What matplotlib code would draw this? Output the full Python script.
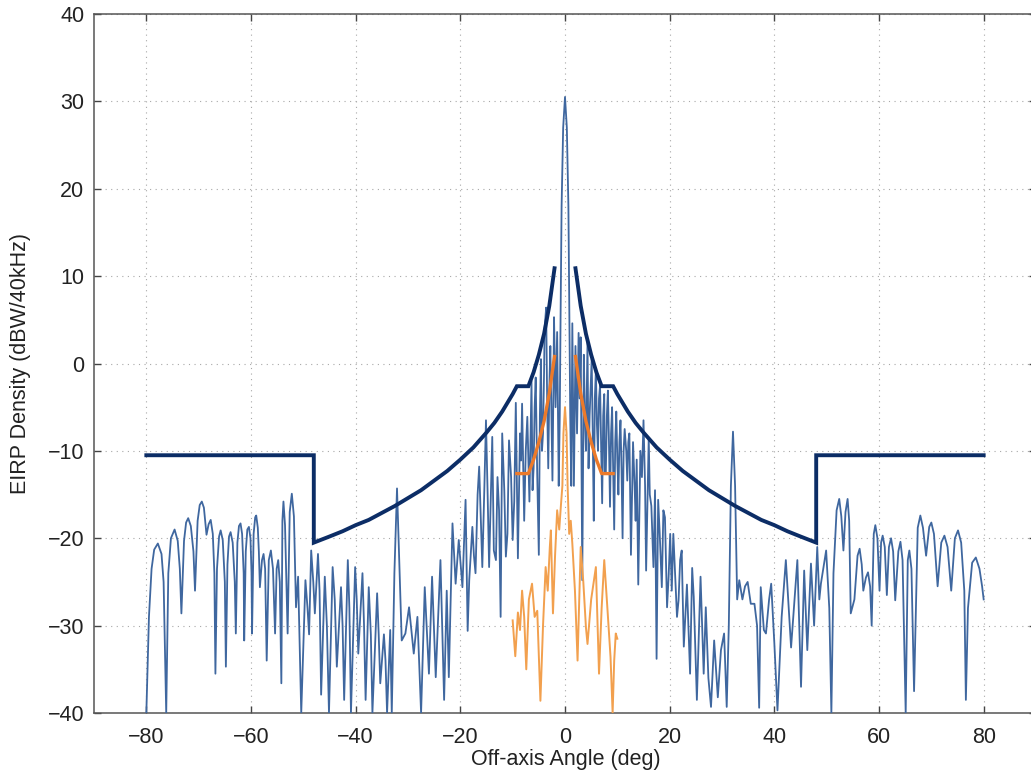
import numpy as np
import matplotlib
matplotlib.use("Agg")
import matplotlib.pyplot as plt

# ---------------- data ----------------
x_ticks = [-80, -60, -40, -20, 0, 20, 40, 60, 80]
y_ticks = [-40, -30, -20, -10, 0, 10, 20, 30, 40]

# measured EIRP density pattern (blue), (angle deg, dBW/40kHz)
blue_trace = [
    (-80.0, -40.0), (-79.5, -29.0), (-79.0, -23.5), (-78.5, -21.3), (-77.8, -20.6), (-77.1, -21.8), (-76.7, -25.0), (-76.2, -40.0),
    (-75.8, -24.0), (-75.3, -20.0), (-74.6, -19.0), (-74.0, -20.3), (-73.6, -23.5), (-73.3, -28.6),
    (-72.8, -20.3), (-72.4, -18.2), (-72.0, -17.7), (-71.5, -18.6), (-71.0, -21.5), (-70.7, -26.0),
    (-70.2, -18.0), (-69.8, -16.2), (-69.4, -15.8), (-69.0, -16.5), (-68.5, -19.6), (-68.1, -18.4), (-67.7, -17.9),
    (-67.3, -19.5), (-67.0, -24.0), (-66.8, -35.5),
    (-66.5, -23.5), (-66.1, -19.8), (-65.8, -19.1), (-65.4, -20.2), (-65.0, -25.0), (-64.8, -34.7),
    (-64.5, -23.0), (-64.2, -19.8), (-63.9, -19.3), (-63.5, -20.5), (-63.1, -25.0), (-62.9, -30.9),
    (-62.6, -20.5), (-62.3, -18.6), (-62.0, -18.3), (-61.7, -19.5), (-61.4, -24.0), (-61.3, -31.7),
    (-61.0, -21.5), (-60.7, -19.0), (-60.4, -18.7), (-60.1, -20.0), (-59.9, -24.0), (-59.8, -30.9),
    (-59.5, -19.5), (-59.2, -17.6), (-59.0, -17.4), (-58.7, -18.8), (-58.5, -21.5), (-58.3, -25.6),
    (-57.9, -22.5), (-57.6, -21.8), (-57.3, -23.5), (-57.0, -34.0),
    (-56.6, -22.5), (-56.2, -21.4), (-55.8, -23.5), (-55.4, -30.9),
    (-55.1, -23.5), (-54.8, -22.5), (-54.5, -25.0), (-54.2, -36.6),
    (-54.0, -18.0), (-53.8, -15.8), (-53.5, -18.5), (-53.0, -30.9),
    (-52.6, -17.0), (-52.2, -14.9), (-51.8, -17.5), (-51.4, -27.9),
    (-51.0, -24.4), (-50.4, -40.0),
    (-49.6, -24.8), (-49.2, -28.0), (-48.9, -31.0), (-48.5, -21.4), (-48.1, -25.0), (-47.8, -28.6), (-47.2, -21.8),
    (-46.9, -26.0), (-46.6, -37.9), (-45.9, -24.4), (-45.5, -30.0), (-45.1, -40.0), (-44.4, -23.3), (-44.0, -27.0),
    (-43.6, -34.7), (-42.8, -25.6), (-42.5, -30.0), (-42.2, -38.5), (-41.5, -22.5), (-41.2, -28.0), (-40.9, -40.0),
    (-40.1, -23.3), (-39.8, -27.0), (-39.5, -33.2), (-38.7, -24.0), (-38.4, -30.0), (-38.1, -38.5), (-37.5, -25.6),
    (-37.1, -31.0), (-36.8, -40.0), (-35.9, -26.3), (-35.6, -31.0), (-35.3, -36.6), (-34.6, -31.0), (-34.3, -34.0),
    (-34.0, -40.0), (-33.4, -30.5), (-33.1, -40.0),
    (-32.6, -24.0), (-32.1, -14.3), (-31.6, -24.0), (-31.2, -31.7),
    (-30.5, -30.9), (-29.8, -27.9), (-28.9, -33.2), (-28.2, -29.0), (-27.5, -40.0), (-26.8, -25.6),
    (-26.0, -35.5), (-25.4, -24.4), (-24.7, -35.9), (-23.8, -22.5), (-23.1, -38.5), (-22.6, -26.0),
    (-22.2, -35.9), (-21.5, -18.3), (-20.9, -25.2), (-20.3, -20.2), (-19.6, -25.6), (-19.0, -15.6),
    (-18.6, -30.6), (-18.3, -24.8), (-17.7, -18.7), (-17.4, -22.0), (-17.1, -24.0), (-16.7, -15.0),
    (-16.4, -11.8), (-15.8, -23.3), (-15.4, -14.0), (-15.1, -6.5), (-14.8, -14.5), (-14.5, -23.3),
    (-13.9, -8.4), (-13.6, -21.4), (-13.2, -22.5), (-12.9, -13.0), (-12.6, -16.8), (-12.3, -29.0),
    (-12.0, -8.0), (-11.6, -14.5), (-11.3, -22.1), (-11.0, -19.5), (-10.7, -8.8), (-10.3, -13.0), (-10.0, -20.2),
    (-9.7, -15.8), (-9.4, -4.5), (-9.0, -22.3), (-8.6, -8.0), (-8.4, -11.1), (-8.2, -4.6), (-7.8, -18.0),
    (-7.5, -10.0), (-7.2, -6.1), (-6.8, -15.8), (-6.6, -9.0), (-6.4, -2.0), (-6.2, -14.5), (-6.0, -12.0),
    (-5.8, -5.0), (-5.6, -1.6), (-5.3, -13.0), (-5.0, -21.9), (-4.8, -6.0), (-4.6, 0.5), (-4.4, -10.0),
    (-4.2, -8.0), (-4.0, -1.0), (-3.9, 4.0), (-3.6, 6.4), (-3.4, -5.0), (-3.2, -12.0), (-3.0, -3.0),
    (-2.8, 2.0), (-2.6, -6.0), (-2.4, -13.4), (-2.2, -2.0), (-2.1, 5.3), (-1.8, -5.0), (-1.5, 3.6),
    (-1.2, -14.0),
    (-1.0, -6.0), (-0.85, 5.0), (-0.65, 18.0), (-0.35, 27.0), (0.0, 30.5), (0.35, 27.0), (0.65, 18.0),
    (0.85, 5.0), (1.0, -6.0),
    (1.2, -14.0), (1.4, 4.6), (1.7, -14.0), (2.0, 2.0), (2.3, -8.0), (2.6, 3.5), (2.8, -4.0), (3.0, 3.0),
    (3.3, -24.8), (3.6, 1.0), (3.8, -6.0), (4.0, -10.0), (4.3, 2.5), (4.5, -12.0), (4.7, -6.0), (5.1, 0.5),
    (5.3, -8.0), (5.5, -18.0), (5.7, -4.0), (5.9, -0.8), (6.1, -7.0), (6.3, -10.0), (6.5, -4.0), (6.7, -2.5),
    (6.9, -9.0), (7.1, -16.0), (7.3, -6.0), (7.5, -3.5), (7.6, -12.5), (7.8, -12.5), (8.0, -6.0), (8.2, -3.1),
    (8.4, -9.0), (8.6, -16.4), (8.8, -8.0), (9.0, -5.0), (9.2, -12.0), (9.4, -19.0), (9.6, -9.0), (9.8, -5.5),
    (10.0, -11.0), (10.2, -15.0), (10.4, -9.0), (10.6, -6.5), (10.8, -12.0), (11.0, -20.0), (11.2, -10.0),
    (11.4, -7.5), (11.7, -10.0), (11.9, -13.4), (12.1, -9.0), (12.3, -8.0), (12.6, -21.9), (13.0, -9.0),
    (13.3, -14.0), (13.5, -18.0), (13.7, -11.0), (14.0, -25.3), (14.4, -10.0), (14.7, -13.0), (15.0, -6.5),
    (15.3, -14.0), (15.5, -23.7), (16.0, -8.5), (16.2, -15.0), (16.5, -16.3), (16.9, -23.3), (17.2, -14.5),
    (17.5, -33.8), (17.8, -15.6), (18.1, -19.5), (18.5, -25.6), (18.8, -16.8), (19.1, -17.6), (19.5, -27.9),
    (19.8, -24.4), (20.1, -19.5), (20.4, -26.0), (20.7, -19.5), (21.4, -29.0), (21.7, -27.1), (22.0, -22.5),
    (22.3, -21.4), (22.7, -32.4), (23.3, -25.3), (23.9, -35.5), (24.3, -23.4), (24.6, -26.7), (25.2, -38.5),
    (25.9, -24.4), (26.5, -35.5), (26.9, -27.9), (27.4, -36.0), (27.9, -39.3), (28.5, -31.7), (29.2, -38.2),
    (29.8, -32.8), (30.4, -30.9), (30.9, -39.3), (31.3, -30.0), (31.7, -14.0),
    (32.1, -7.8), (32.5, -14.0), (32.9, -27.0), (33.3, -24.8), (33.9, -27.0), (34.4, -25.5), (34.9, -25.0),
    (35.5, -27.5), (36.2, -27.5), (36.7, -30.0), (37.1, -39.4), (37.4, -25.6), (38.0, -30.5), (38.4, -30.9),
    (39.0, -27.0), (39.4, -25.2), (40.0, -32.0), (40.6, -39.7), (41.4, -29.0), (42.2, -22.5), (43.2, -32.5),
    (44.4, -22.5), (45.1, -37.0), (45.7, -23.7), (46.3, -32.8), (47.0, -22.9), (47.6, -30.0), (48.2, -21.0),
    (48.6, -27.0), (48.9, -25.2), (49.9, -21.4), (50.5, -28.0), (50.9, -40.0), (51.3, -24.0), (51.9, -16.8),
    (52.4, -15.5), (52.8, -17.5), (53.2, -21.4), (53.6, -17.0), (54.0, -15.5), (54.3, -18.0), (54.6, -28.6),
    (55.3, -27.0), (55.9, -22.0), (56.3, -21.2), (56.7, -23.0), (57.0, -26.0), (57.5, -24.5), (57.9, -23.9),
    (58.3, -25.5), (58.6, -30.0), (59.0, -19.5), (59.3, -18.5), (59.7, -20.0), (60.1, -26.0), (60.4, -20.5),
    (60.7, -19.7), (61.1, -21.0), (61.5, -26.5), (61.9, -21.0), (62.3, -20.0), (62.7, -21.5), (63.1, -27.1),
    (63.7, -21.5), (64.1, -20.4), (64.5, -22.5), (65.1, -40.0), (65.5, -22.5), (65.8, -21.4), (66.2, -23.5),
    (66.7, -37.5), (67.4, -18.8), (67.9, -17.4), (68.4, -18.8), (69.0, -22.0), (69.6, -18.7), (70.0, -18.2),
    (70.5, -19.5), (71.2, -25.5), (71.9, -20.5), (72.5, -19.7), (73.1, -21.0), (73.8, -26.0), (74.5, -20.0),
    (75.1, -19.1), (75.7, -20.5), (76.3, -26.0), (76.6, -38.5), (77.0, -28.0), (77.8, -22.8), (78.5, -22.2),
    (79.2, -23.5), (79.7, -25.5), (80.0, -27.0),
]

# orange (reduced) pattern, (angle deg, dBW/40kHz)
orange_trace = [
    (-10.0, -29.4), (-9.5, -33.5), (-9.0, -28.5), (-8.6, -30.5), (-8.2, -26.0), (-7.8, -29.0), (-7.4, -35.0),
    (-6.9, -27.0), (-6.3, -25.2), (-5.8, -29.0), (-5.3, -28.3), (-4.7, -38.6), (-4.2, -30.0), (-3.7, -23.3),
    (-3.3, -26.0), (-2.9, -21.0), (-2.7, -19.1), (-2.3, -28.6), (-1.9, -22.0), (-1.5, -16.8), (-1.1, -19.0),
    (-0.8, -16.4), (-0.5, -14.0), (-0.3, -8.0), (0.0, -5.0), (0.3, -8.0), (0.5, -14.0), (0.8, -19.5),
    (1.1, -18.0), (1.4, -20.6), (1.9, -26.0), (2.4, -34.0), (3.0, -21.0), (3.5, -25.0), (4.0, -30.2),
    (4.3, -32.1), (5.0, -27.0), (5.9, -23.3), (6.5, -35.5), (7.0, -28.0), (7.5, -22.5), (8.1, -28.0),
    (8.7, -33.6), (9.1, -40.0), (9.4, -34.0), (9.7, -30.9), (10.0, -31.5),
]

# regulatory mask (thick navy), one side; mirrored for negative angles
mask_theta = [2, 3, 4, 5, 6, 7, 9.2, 10, 11, 12, 13.5, 15, 17.5, 20, 22.5, 25, 27.5, 30,
              32.5, 35, 37.5, 40, 42.5, 45, 48, 48, 80]
mask_db = [10.9, 6.6, 3.4, 1.0, -1.0, -2.6, -2.6, -3.5, -4.5, -5.5, -6.8, -7.9, -9.6, -11.0,
           -12.3, -13.4, -14.5, -15.4, -16.3, -17.1, -17.9, -18.5, -19.2, -19.8, -20.5, -10.5, -10.5]

# reduced mask (thick orange), one side
omask_theta = [2, 3, 4, 5, 6, 7, 9.2]
omask_db = [0.8, -3.4, -6.6, -9.0, -11.0, -12.6, -12.6]

# ---------------- plotting ----------------
plt.rcParams['font.family'] = ['Liberation Sans', 'DejaVu Sans']

W, H = 1031, 781
fig = plt.figure(figsize=(W / 100, H / 100), dpi=100)
left_px, right_px, top_px, bot_px = 94, 1036, 14, 713
ax = fig.add_axes([left_px / W, (H - bot_px) / H, (right_px - left_px) / W, (bot_px - top_px) / H])

BLUE = '#3f679f'
NAVY = '#0c2d66'
ORANGE_THIN = '#f2a04e'
ORANGE_THICK = '#ec7a2a'

bt = np.array(blue_trace)
ax.plot(bt[:, 0], bt[:, 1], color=BLUE, lw=1.3, zorder=3)

ot = np.array(orange_trace)
ax.plot(ot[:, 0], ot[:, 1], color=ORANGE_THIN, lw=1.4, zorder=4)

mt = np.array(mask_theta)
md = np.array(mask_db)
ax.plot(mt, md, color=NAVY, lw=2.8, zorder=5, solid_joinstyle='miter')
ax.plot(-mt, md, color=NAVY, lw=2.8, zorder=5, solid_joinstyle='miter')

omt = np.array(omask_theta)
omd = np.array(omask_db)
ax.plot(omt, omd, color=ORANGE_THICK, lw=2.4, zorder=6)
ax.plot(-omt, omd, color=ORANGE_THICK, lw=2.4, zorder=6)

ax.set_xlim(-90, 90)
ax.set_ylim(-40, 40)
ax.set_xticks(x_ticks)
ax.set_yticks(y_ticks)

ax.grid(True, color='#a8a8a8', lw=0.8, linestyle=(0, (1, 4)))
ax.set_axisbelow(True)

ax.tick_params(direction='in', length=5, width=1, color='#444444',
               top=True, right=True, labelsize=15.5, labelcolor='#222222')
ax.tick_params(axis='x', pad=10)
ax.tick_params(axis='y', pad=7)
for sp in ax.spines.values():
    sp.set_color('#555555')
    sp.set_linewidth(1.1)

ax.set_xlabel('Off-axis Angle (deg)', fontsize=15.5, color='#222222')
ax.set_ylabel('EIRP Density (dBW/40kHz)', fontsize=15.5, color='#222222')
ax.xaxis.label.set_va('center')
ax.yaxis.label.set_va('center')
ax.xaxis.set_label_coords((566 - left_px) / (right_px - left_px), -(760 - bot_px) / (bot_px - top_px))
ax.yaxis.set_label_coords(-(left_px - 21) / (right_px - left_px), 0.5)

fig.savefig('out.png', dpi=100)
